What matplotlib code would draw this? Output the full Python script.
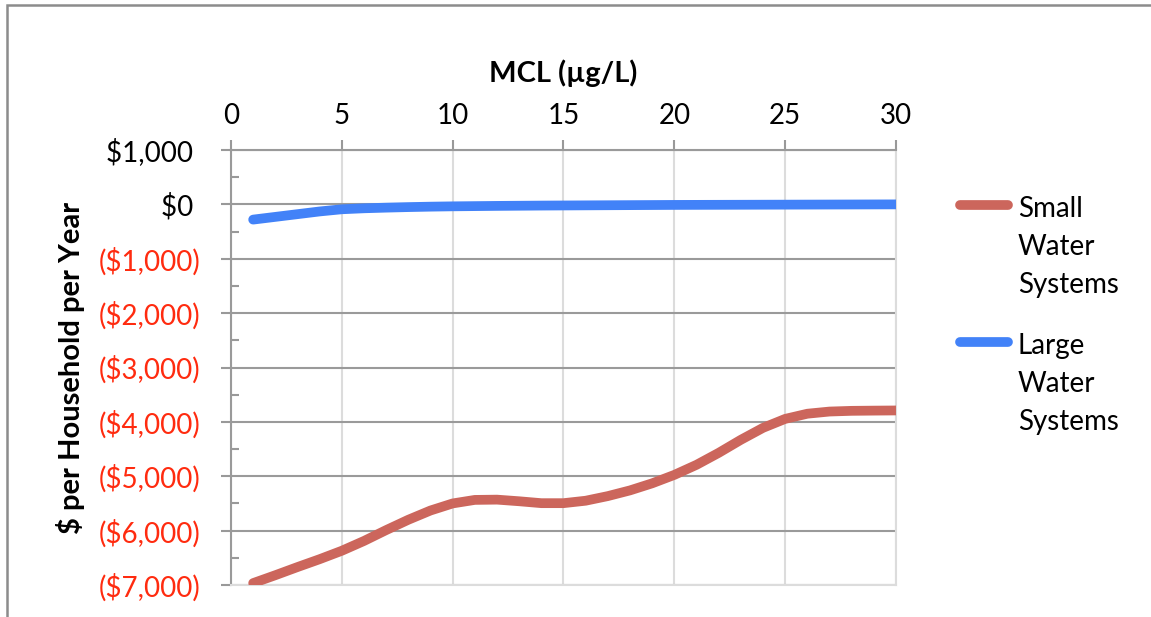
import matplotlib
matplotlib.use("Agg")
import matplotlib.pyplot as plt
from matplotlib.lines import Line2D
from matplotlib.patches import Rectangle
from matplotlib.ticker import MultipleLocator, FixedLocator

plt.rcParams["font.family"] = ["Lato", "DejaVu Sans"]

# MCL (ug/L)
mcl = list(range(1, 31))

# $ per household per year
small_systems = [-6965, -6820, -6670, -6525, -6370, -6190, -5990, -5800, -5630, -5500,
                 -5435, -5430, -5460, -5495, -5495, -5450, -5365, -5260, -5130, -4975,
                 -4790, -4570, -4330, -4110, -3945, -3850, -3810, -3797, -3793, -3790]
large_systems = [-280, -230, -180, -130, -90, -72, -60, -50, -42, -36,
                 -32, -28, -25, -22, -20, -18, -16, -14, -12, -10,
                 -9, -8, -7, -6, -5, -4, -3, -2, -1, 0]

series_names = ["Small\nWater\nSystems", "Large\nWater\nSystems"]
series_colors = ["#CC665C", "#4282F8"]

y_ticks = [1000, 0, -1000, -2000, -3000, -4000, -5000, -6000, -7000]
x_ticks = [0, 5, 10, 15, 20, 25, 30]

W, H = 1151, 617
fig = plt.figure(figsize=(W / 100, H / 100), dpi=100)
ax = fig.add_axes([231 / W, 1 - 585 / H, (896 - 231) / W, (585 - 150) / H])

for vals, name, col in zip([small_systems, large_systems], series_names, series_colors):
    ax.plot(mcl, vals, color=col, lw=7, solid_capstyle="round", solid_joinstyle="round", zorder=3)

ax.set_xlim(0, 30)
ax.set_ylim(-7000, 1000)

# x axis on top
ax.xaxis.tick_top()
ax.xaxis.set_label_position("top")
ax.set_xticks(x_ticks)
ax.set_xticklabels([str(t) for t in x_ticks])
ax.tick_params(axis="x", which="major", direction="out", length=7, width=1.5,
               color="#999999", labelsize=20, pad=8)

ax.yaxis.set_major_locator(FixedLocator(y_ticks))
ax.yaxis.set_minor_locator(MultipleLocator(500))


def money(v):
    if v < 0:
        return "(${:,})".format(-v)
    return "${:,} ".format(v)


ax.set_yticklabels([money(v) for v in y_ticks])
for lab, v in zip(ax.get_yticklabels(), y_ticks):
    lab.set_color("#FF2B0F" if v < 0 else "black")
ax.tick_params(axis="y", which="major", direction="out", length=7, width=1.5,
               color="#999999", labelsize=20, pad=15)
ax.tick_params(axis="y", which="minor", direction="in", length=6, width=1.5,
               color="#999999")

ax.set_xlabel("MCL (\u00b5g/L)", fontsize=21, fontweight="bold", labelpad=15)
ax.set_ylabel("$ per Household per Year", fontsize=21, fontweight="bold", labelpad=10)

# gridlines
ax.yaxis.grid(True, which="major", color="#9A9A9A", lw=1.5, zorder=1)
ax.xaxis.grid(True, which="major", color="#DCDCDC", lw=1.5, zorder=1)
ax.set_axisbelow(True)
for side, col in [("left", "#9A9A9A"), ("top", "#9A9A9A"),
                  ("bottom", "#DCDCDC"), ("right", "#DCDCDC")]:
    ax.spines[side].set_color(col)
    ax.spines[side].set_linewidth(1.5)

# legend, drawn by hand so the key sits on the first text line
legend_rows = [205, 342]
for name, col, yk in zip(series_names, series_colors, legend_rows):
    fig.add_artist(Line2D([960 / W, 1008 / W], [1 - yk / H, 1 - yk / H], color=col, lw=7,
                          solid_capstyle="round", transform=fig.transFigure))
    fig.text(1018 / W, 1 - (yk - 9) / H, name, fontsize=20, va="top", ha="left",
             linespacing=1.56)

# chart area border (picture is cropped on the right and bottom)
fig.add_artist(Rectangle((7 / W, -0.1), 1.2, 1.1 - 5 / H, transform=fig.transFigure,
                         fill=False, edgecolor="#8C8C8C", lw=1.8))

fig.savefig("out.png", dpi=100)
